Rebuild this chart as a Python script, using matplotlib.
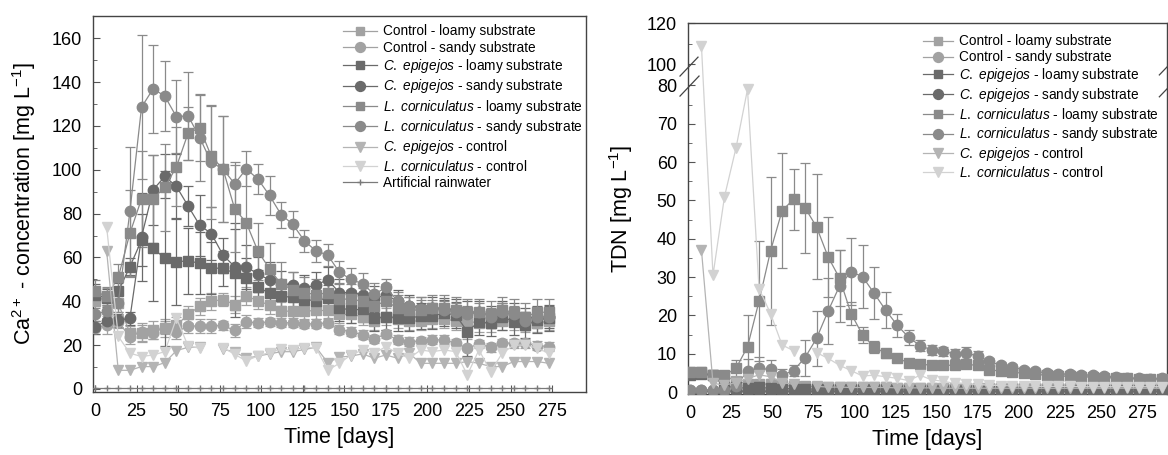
import numpy as np
import matplotlib
matplotlib.use("Agg")
import matplotlib.pyplot as plt
from matplotlib.lines import Line2D

plt.rcParams['font.family'] = ['Liberation Sans', 'DejaVu Sans']
plt.rcParams['mathtext.fontset'] = 'custom'
plt.rcParams['mathtext.rm'] = 'Liberation Sans'
plt.rcParams['mathtext.it'] = 'Liberation Sans:italic'
plt.rcParams['mathtext.bf'] = 'Liberation Sans:bold'

nan = np.nan
# ---------------- data: left panel (Ca2+) ----------------
days_ca = list(range(0, 274, 7))  # 40 sampling days

ca_ctrl_loamy = [40, 42, 39, 25.5, 25.4, 26.9, 27.7, 29, 34, 37.7, 40, 40.8, 38.5, 42.3, 40.3, 38.2, 35.5, 35.5, 35.5, 35.8,
                 35.8, 34, 34, 33, 31, 33, 32, 31, 31, 32, 32, 31, 31, 30, 30, 31, 31, 30, 30, 31]
ca_ctrl_loamy_err = [5, 4, 4, 3, 4, 4, 4, 4, 4, 4, 4, 3, 4, 4, 4, 4, 4, 4, 4, 4, 4, 4, 4, 4, 4, 4, 4, 4, 4, 4, 4, 4, 4, 4, 4, 4, 4, 4, 4, 4]
ca_ctrl_sandy = [28, 29.2, 30.7, 23.7, 26.1, 25.7, 28, 26, 28.7, 28.7, 28.7, 29, 26.7, 30.6, 30.2, 30.6, 30.2, 30.2, 29.7, 29.7,
                 30.2, 27, 26.2, 24.7, 22.8, 25.1, 22.4, 21.6, 21.9, 22.4, 22.4, 20.9, 18.6, 20.5, 19, 20.9, 20.9, 20.9, 19.8, 19.3]
ca_ctrl_sandy_err = [3, 4, 3, 3, 4, 3, 3, 3, 3, 3, 3, 2, 3, 3, 2, 2, 2, 2, 2, 2, 2, 2, 2, 2, 2, 2, 2, 2, 2, 2, 2, 2, 4, 2, 2, 2, 2, 2, 2, 2]
ca_cepi_loamy = [43, 41.5, 44.5, 55.8, 67.9, 64.2, 59.6, 58.1, 58.4, 57.4, 55.1, 55.1, 52.8, 50.6, 46.3, 43.8, 42.3, 41.8, 40.8, 40.3,
                 41.5, 37, 36, 36.4, 32.3, 33, 32.6, 32.3, 33.3, 33.3, 34.6, 33.8, 26.2, 30.7, 30, 33, 30.7, 29.2, 31.5, 32.3]
ca_cepi_loamy_err = [5, 4, 4, 4, 12, 24, 40, 20, 15, 14, 12, 8, 20, 9, 8, 6, 6, 6, 6, 6, 6, 6, 6, 6, 6, 6, 6, 6, 6, 6, 6, 6, 11, 6, 6, 6, 6, 6, 6, 6]
ca_cepi_sandy = [28.2, 31.2, 31.4, 32.2, 69.4, 90.9, 97, 92.4, 83.5, 74.7, 70.9, 61.1, 55.8, 55.8, 52.4, 49.8, 48, 47.5, 46, 47.5,
                 49.8, 44, 44, 43, 41, 43, 40, 38, 37, 37, 36.5, 36, 35, 35, 33, 35, 34, 32, 33, 33]
ca_cepi_sandy_err = [3, 3, 3, 3, 20, 16, 10, 15, 9, 14, 12, 8, 20, 10, 8, 8, 6, 6, 6, 6, 6, 6, 6, 6, 6, 5, 5, 5, 5, 5, 5, 5, 5, 5, 5, 5, 5, 5, 5, 5]
ca_lcor_loamy = [44.5, 42.3, 50.9, 71, 86.8, 86.8, 92, 101.4, 116.7, 119.2, 106.1, 100.4, 82.3, 75.9, 62.9, 54.8, 47.8, 45.3, 44, 43,
                 44, 41, 41, 40, 38, 40, 37, 36, 36, 37, 37, 36, 35, 35, 34, 36, 35, 33, 35, 35]
ca_lcor_loamy_err = [5, 4, 6, 20, 22, 20, 20, 18, 12, 15, 23, 24, 20, 23, 13, 12, 10, 8, 7, 7, 7, 7, 7, 6, 6, 6, 6, 6, 6, 6, 6, 6, 6, 6, 6, 6, 6, 6, 6, 6]
ca_lcor_sandy = [34, 35.5, 39, 81, 128.6, 137, 133.6, 124.2, 124.7, 114.7, 103.4, 100.4, 93.6, 100.4, 95.8, 88.3, 79.5, 75.2, 67.5, 63,
                 61.1, 53.3, 50, 48, 43.2, 46.3, 40.2, 38, 36.5, 36.8, 36, 35.3, 34, 35, 33, 35, 34, 31, 33, 33]
ca_lcor_sandy_err = [3, 3, 4, 29.6, 33, 20, 16, 16.6, 20, 20, 26, 24, 10, 8, 7, 9, 6, 6, 5, 5, 5, 5, 5, 5, 5, 4, 4, 4, 4, 4, 4, 4, 4, 4, 4, 4, 4, 4, 4, 4]
ca_cepi_ctrl = [nan, 63, 8.5, 8.5, 10.2, 10.2, 12, 17.5, 19, 19, nan, 18, 17, 14, 15, 16, 17, 17, 18, 19,
                12, 14.5, 15, 16, 14, 15.5, 14, 16.3, 11.7, 11.7, 11.7, 11.7, 12.5, 11.7, 10.2, 10.2, 12.5, 12.5, 12.5, 11.7]
ca_lcor_ctrl = [nan, 74, 24, 16.3, 14.8, 15.5, 17, 32.3, 19.6, 18.6, nan, 18.9, 15.8, 12.8, 15.1, 16.6, 18.1, 17.7, 18.9, 18.9,
                8.5, 11.7, 15.5, 17.8, 16.3, 19.3, 16.3, 14, 17.8, 17, 17.8, 17, 6.4, 17.8, 7.9, 16.3, 20, 20, 18.6, 16.3]
ca_rain = [0.3] * 40

# ---------------- data: right panel (TDN) ----------------
days_tdn = list(range(0, 288, 7))  # 42 sampling days

tdn_ctrl_loamy = [5.3, 5.3, 4.4, 4.2, 3.0, 2.2, 2.2, 2.0, 1.8, 1.5, 1.5, 1.4, 1.3, 1.3, 1.2, 1.2, 1.2, 1.2, 1.1, 1.1, 1.1,
                  1.1, 1.1, 1.1, 1.0, 1.0, 1.0, 1.0, 1.0, 1.0, 1.0, 1.0, 1.0, 1.0, 1.0, 1.0, 1.0, 1.0, 1.0, 1.0, 1.0, 1.0]
tdn_ctrl_sandy = [0.6] * 42
tdn_cepi_loamy = [4.4, 4.6, 4.4, 1.5, 1.2, 1.0, 1.2, 1.0, 0.9, 0.9, 0.8, 0.8, 0.8, 0.8, 0.8, 0.8, 0.8, 0.8, 0.8, 0.8, 0.8,
                  0.8, 0.8, 0.8, 0.8, 0.8, 0.8, 0.8, 0.8, 0.8, 0.8, 0.8, 0.8, 0.8, 0.8, 0.8, 0.8, 0.8, 0.8, 0.8, 0.8, 0.8]
tdn_cepi_sandy = [0.4] * 42
tdn_lcor_loamy = [5.3, 5.3, 4.4, 4.4, 6.2, 11.8, 23.7, 36.8, 47.3, 50.3, 48.1, 43.1, 35.3, 29.7, 20.5, 14.9, 11.8, 10.1, 8.8, 7.7,
                  7.3, 7.0, 7.0, 7.0, 7.2, 7.0, 5.8, 5.5, 5.2, 4.9, 4.6, 4.4, 4.2, 4.1, 4.0, 3.9, 3.8, 3.7, 3.6, 3.5, 3.4, 3.4]
tdn_lcor_loamy_err = [0.5, 0.5, 0.5, 0.5, 2.3, 8.3, 15.7, 19.4, 15, 7.9, 11.8, 13.7, 10.4, 7.3, 3, 2, 1.5, 1.2, 1, 1, 1,
                      0.8, 0.8, 0.8, 0.8, 0.8, 0.8, 0.8, 0.7, 0.7, 0.7, 0.7, 0.6, 0.6, 0.6, 0.6, 0.6, 0.6, 0.6, 0.6, 0.6, 0.6]
tdn_lcor_sandy = [0.6, 0.6, 0.6, 0.6, 1.5, 5.6, 6.2, 5.9, 4.4, 5.6, 9.0, 14.0, 21.1, 27.7, 31.4, 30.1, 25.8, 21.4, 17.5, 14.3,
                  12.1, 11.0, 10.6, 10.0, 10.2, 9.4, 8.0, 7.0, 6.6, 5.8, 5.4, 5.0, 4.7, 4.7, 4.5, 4.4, 4.2, 3.9, 3.7, 3.6, 3.5, 3.6]
tdn_lcor_sandy_err = [0.3, 0.3, 0.3, 0.3, 0.5, 3, 3, 2.5, 1.5, 1.5, 4.7, 7.2, 8.6, 9.3, 8.7, 8.2, 6.8, 4.8, 3, 2, 1.5,
                      1.3, 1.2, 1.3, 1.5, 1.2, 0.8, 0.8, 0.8, 0.8, 0.8, 0.8, 0.7, 0.7, 0.7, 0.6, 0.6, 0.6, 0.6, 0.6, 0.6, 0.6]
tdn_cepi_ctrl = [nan, 37, 2.3, 1.8, 2.5, 3.5, 4.5, 4.0, 2.5, 2.0, nan, 1.5, 1.3, 1.3, 1.2, 1.2, 1.2, 1.2, 1.1, 1.1, 1.1,
                 1.1, 1.0, 1.0, 1.0, 1.0, 1.0, 1.0, 1.0, 1.0, 1.0, 1.0, 1.0, 1.0, 1.0, 1.0, 1.0, 1.0, 1.0, 1.0, 1.0, 1.0]
tdn_lcor_ctrl = [nan, 108.7, 30.5, 51, 63.7, 79, 27, 20.5, 12.3, 10.8, nan, 10.3, 8.8, 7.0, 5.6, 4.2, 4.4, 4.0, 3.6, 3.0, 4.4,
                 3.2, 2.8, 2.3, 2.2, 2.0, 1.8, 1.7, 1.6, 1.6, 1.5, 1.5, 1.5, 1.5, 1.4, 1.4, 1.4, 1.4, 1.4, 1.4, 1.4, 1.4]

labels = ["Control - loamy substrate", "Control - sandy substrate",
          r"$\it{C.\ epigejos}$ - loamy substrate", r"$\it{C.\ epigejos}$ - sandy substrate",
          r"$\it{L.\ corniculatus}$ - loamy substrate", r"$\it{L.\ corniculatus}$ - sandy substrate",
          r"$\it{C.\ epigejos}$ - control", r"$\it{L.\ corniculatus}$ - control",
          "Artificial rainwater"]
colors = ['#a2a2a2', '#a2a2a2', '#6a6a6a', '#6a6a6a', '#8a8a8a', '#8a8a8a', '#b4b4b4', '#d2d2d2', '#7a7a7a']
markers = ['s', 'o', 's', 'o', 's', 'o', 'v', 'v', '+']
msizes = [6.5, 7.5, 6.5, 7.5, 6.5, 7.5, 7.5, 7.5, 4]

fig = plt.figure(figsize=(11.68, 4.55), dpi=100)
W, H = 1168, 455
ax1 = fig.add_axes([93 / W, (H - 392) / H, (586 - 93) / W, (392 - 16) / H])
ax2 = fig.add_axes([688 / W, (H - 394) / H, (1167 - 688) / W, (394 - 23) / H])


def draw(ax, x, y, err, i):
    c = colors[i]
    if err is not None:
        ax.errorbar(x, y, yerr=err, fmt='none', ecolor=c, elinewidth=0.9, capsize=3.5, capthick=0.9, zorder=2 + i * 0.1)
    ax.plot(x, y, color=c, marker=markers[i], markersize=msizes[i], lw=0.9, mec=c, mfc=c, zorder=3 + i * 0.1)


left_series = [(ca_ctrl_loamy, ca_ctrl_loamy_err), (ca_ctrl_sandy, ca_ctrl_sandy_err),
               (ca_cepi_loamy, ca_cepi_loamy_err), (ca_cepi_sandy, ca_cepi_sandy_err),
               (ca_lcor_loamy, ca_lcor_loamy_err), (ca_lcor_sandy, ca_lcor_sandy_err),
               (ca_cepi_ctrl, None), (ca_lcor_ctrl, None), (ca_rain, None)]
for i, (y, e) in enumerate(left_series):
    draw(ax1, days_ca, y, e, i)

right_series = [(tdn_ctrl_loamy, None), (tdn_ctrl_sandy, None), (tdn_cepi_loamy, None), (tdn_cepi_sandy, None),
                (tdn_lcor_loamy, tdn_lcor_loamy_err), (tdn_lcor_sandy, tdn_lcor_sandy_err),
                (tdn_cepi_ctrl, None), (tdn_lcor_ctrl, None)]
for i, (y, e) in enumerate(right_series):
    draw(ax2, days_tdn, y, e, i)


# broken y scale for TDN
def fwd(y):
    y = np.asarray(y, dtype=float)
    return np.where(y <= 80, y, np.where(y <= 100, 80 + (y - 80) * 0.275, 85.5 + (y - 100) * 0.54))


def inv(f):
    f = np.asarray(f, dtype=float)
    return np.where(f <= 80, f, np.where(f <= 85.5, 80 + (f - 80) / 0.275, 100 + (f - 85.5) / 0.54))


ax2.set_yscale('function', functions=(fwd, inv))

ax1.set_xlim(-1.2, 295.4)
ax1.set_ylim(-1.4, 170.2)
ax2.set_xlim(-1.2, 290.2)
ax2.set_ylim(-0.5, 120)

xt = list(range(0, 276, 25))
for ax in (ax1, ax2):
    ax.set_xticks(xt)
    ax.set_xticklabels([str(v) for v in xt])
    ax.tick_params(axis='both', which='both', direction='in', labelsize=13, color='#555555')
    ax.tick_params(axis='both', which='major', length=5, pad=8)
    ax.tick_params(axis='both', which='minor', length=3)
    for s in ax.spines.values():
        s.set_color('#444444')
        s.set_linewidth(1.0)
    ax.set_xlabel('Time [days]', fontsize=15.5, labelpad=5)

ax1.set_yticks(list(range(0, 161, 20)))
ax1.set_yticks(list(range(10, 170, 20)), minor=True)
ax2.set_yticks([0, 10, 20, 30, 40, 50, 60, 70, 80, 100, 120])
ax2.set_yticks([5, 15, 25, 35, 45, 55, 65, 75, 110], minor=True)
ax2.set_yticklabels(['0', '10', '20', '30', '40', '50', '60', '70', '80', '100', '120'])

ax1.set_ylabel('Ca$^{2+}$ - concentration [mg L$^{-1}$]', fontsize=15.5)
ax1.yaxis.set_label_coords(-0.112, 0.5)
ax2.set_ylabel('TDN [mg L$^{-1}$]', fontsize=15.5)
ax2.yaxis.set_label_coords(-0.110, 0.5)

# break marks
kw = dict(transform=ax2.transAxes, color='#444444', lw=0.9, clip_on=False)
ax2.plot([-0.0167, 0.0209], [0.857, 0.908], **kw)
ax2.plot([-0.0167, 0.0230], [0.803, 0.857], **kw)
ax2.plot([0.984, 1.022], [0.860, 0.911], **kw)
ax2.plot([0.984, 1.022], [0.801, 0.852], **kw)

# legends
def handles(n):
    return [Line2D([], [], color=colors[i], marker=markers[i], markersize=msizes[i] * 0.95, lw=0.9,
                   mec=colors[i], mfc=colors[i]) for i in range(n)]

leg1 = ax1.legend(handles(9), labels, loc='upper left', bbox_to_anchor=(343 / W, (H - 24.5) / H),
                  bbox_transform=fig.transFigure, frameon=False, fontsize=9.8, handlelength=2.5,
                  handletextpad=0.45, labelspacing=0.17, borderaxespad=0, borderpad=0)
leg2 = ax2.legend(handles(8), labels[:8], loc='upper left', bbox_to_anchor=(923 / W, (H - 34.5) / H),
                  bbox_transform=fig.transFigure, frameon=False, fontsize=9.8, handlelength=2.2,
                  handletextpad=0.45, labelspacing=0.13, borderaxespad=0, borderpad=0)

fig.savefig('out.png', dpi=100)
